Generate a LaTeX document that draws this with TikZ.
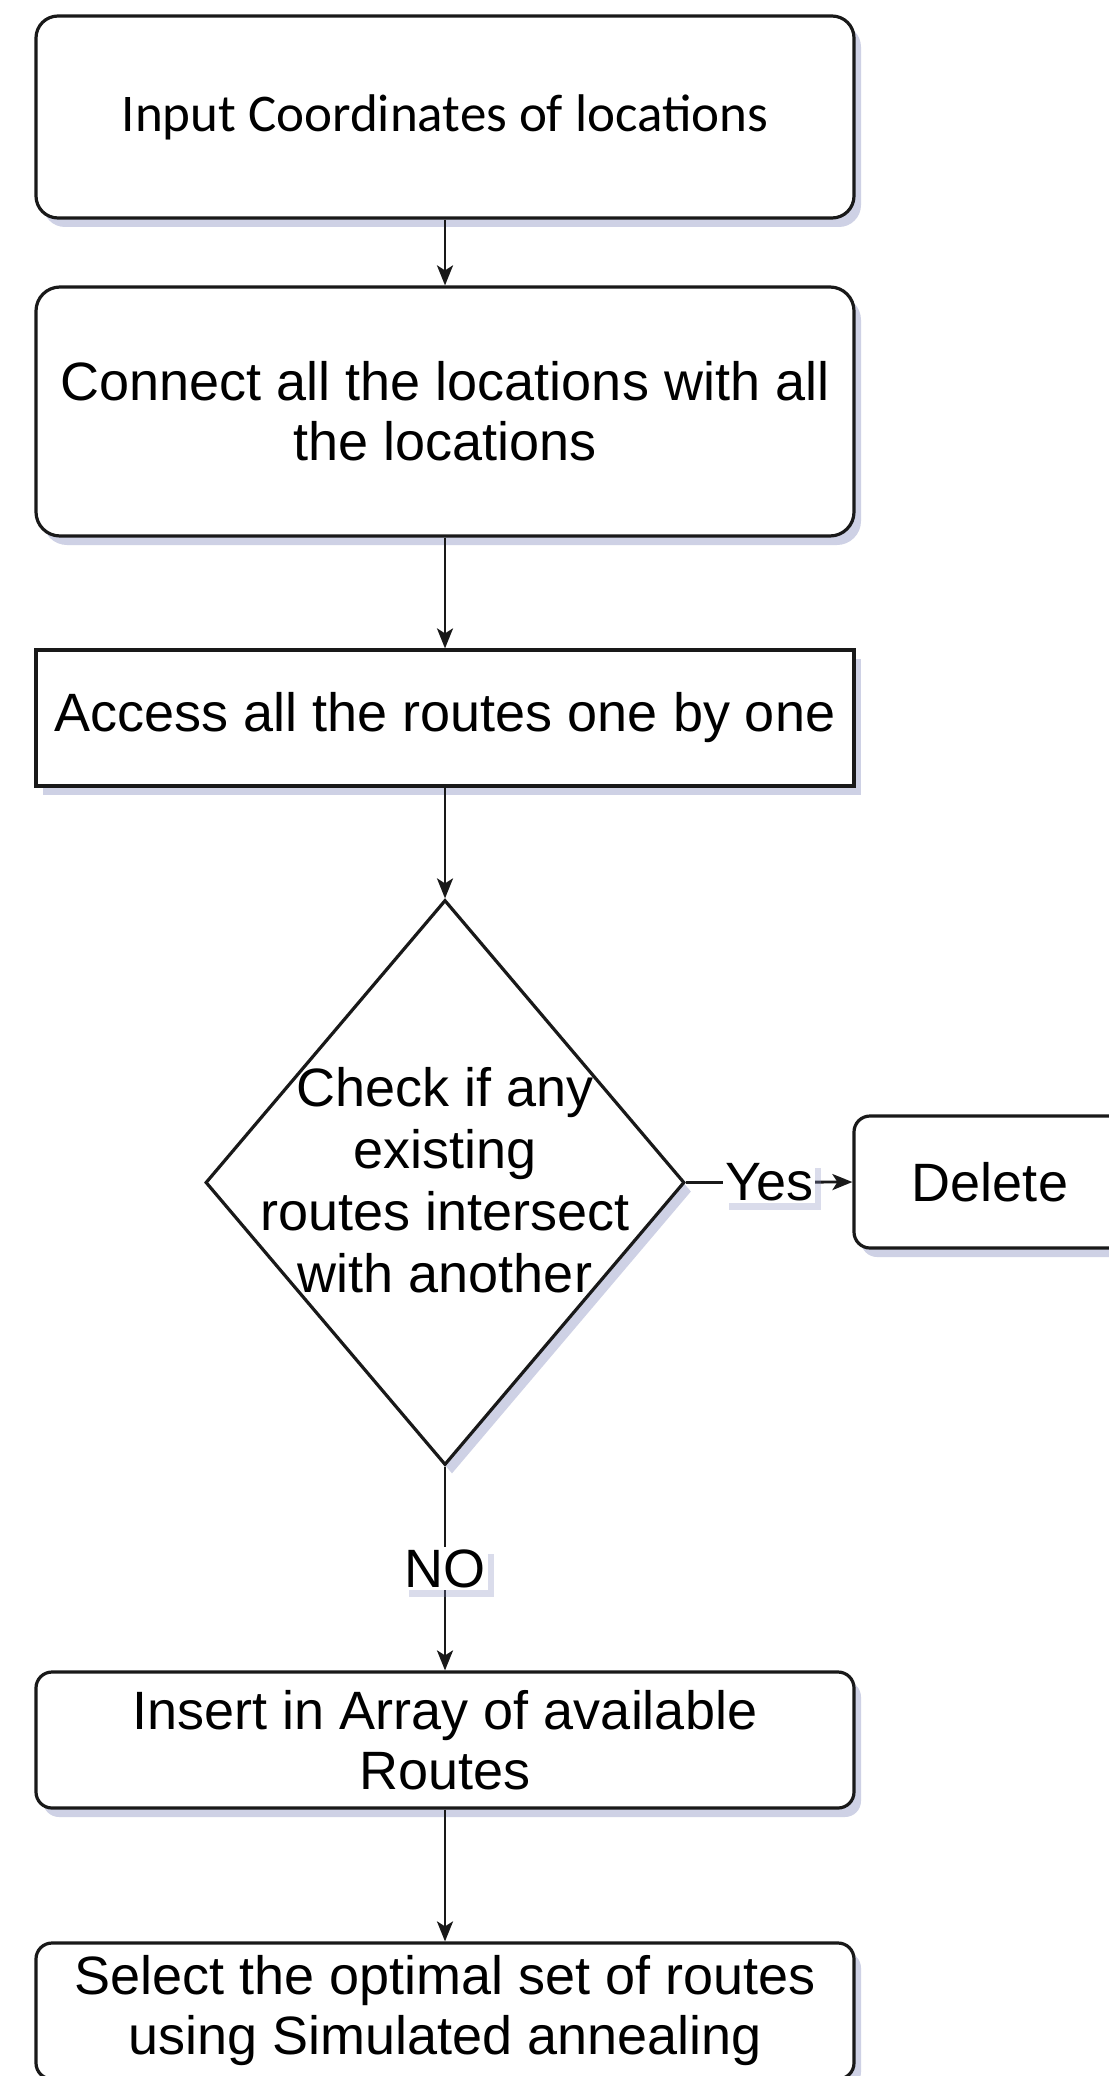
\documentclass[tikz,border=0pt]{standalone}
\usepackage{fontspec}
\setmainfont{Liberation Sans}
\newfontfamily\calib{Carlito}
\usetikzlibrary{shapes.geometric,arrows.meta,shadows}
\definecolor{shadowblue}{rgb}{0.52,0.55,0.75}
\begin{document}
\begin{tikzpicture}[x=1pt,y=-1pt,
  base/.style={draw=black!90, line width=3.2pt, fill=white, inner sep=0pt,
     drop shadow={shadow xshift=7pt, shadow yshift=-9pt, fill=shadowblue, opacity=0.4},
     font=\fontsize{54}{60}\selectfont, align=center},
  rbox/.style={base, rectangle, rounded corners=#1, minimum width=818pt},
  sbox/.style={base, rectangle, minimum width=818pt},
  conn/.style={draw=black!90, line width=2.8pt, -{Stealth[length=20pt,width=16pt,inset=5pt]}},
  lbl/.style={fill=white, inner sep=2pt, font=\fontsize{54}{60}\selectfont,
     drop shadow={shadow xshift=6pt, shadow yshift=-7pt, fill=shadowblue, opacity=0.3}}
]
\useasboundingbox (0,0) rectangle (1108,2076);
\fill[white] (0,0) rectangle (1108,2076);

\node[rbox=22pt, minimum height=202pt] (b1) at (445,117)
  {\calib\fontsize{53}{60}\selectfont Input Coordinates of locations};
\node[rbox=24pt, minimum height=249pt] (b2) at (445,411.5)
  {Connect all the locations with all\\the locations};
\node[sbox, minimum height=136pt] (b3) at (445,718)
  {Access all the routes one by one};
\node[base, diamond, minimum width=479pt, minimum height=565pt] (dec) at (445,1182.5) {};
\node[font=\fontsize{54}{62}\selectfont, align=center, inner sep=0pt] (dectxt) at (445,1180)
  {Check if any\\existing\\routes intersect\\with another};
\node[rbox=16pt, minimum width=272pt, minimum height=132pt] (del) at (990,1182) {Delete};
\node[rbox=16pt, minimum height=136pt] (b4) at (445,1740)
  {Insert in Array of available\\Routes};
\node[rbox=16pt, minimum height=136pt] (b5) at (445,2011)
  {Select the optimal set of routes\\using Simulated annealing};

\draw[conn] (b1.south) -- (b2.north);
\draw[conn] (b2.south) -- (b3.north);
\draw[conn] (b3.south) -- (dec.north);
\draw[conn] (dec.east) -- node[lbl] (yes) {Yes} (del.west);
\draw[conn] (dec.south) -- node[lbl] (no) {NO} (b4.north);
\draw[conn] (b4.south) -- (b5.north);
\end{tikzpicture}
\end{document}
